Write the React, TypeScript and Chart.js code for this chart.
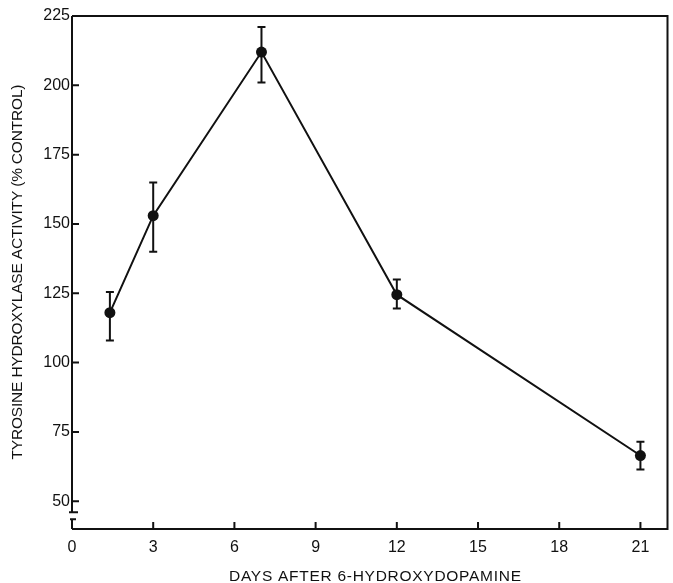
import React, { useEffect, useRef } from "react";
import { Chart, registerables } from "chart.js";
Chart.register(...registerables);

const days = [1.4, 3, 7, 12, 21];
const activity = [118, 153, 212, 124.5, 66.5];
const errLow = [108, 140, 201, 119.5, 61.5];
const errHigh = [125.5, 165, 221, 130, 71.5];
const xTicks = [0, 3, 6, 9, 12, 15, 18, 21];
const yTicks = [50, 75, 100, 125, 150, 175, 200, 225];
const yBreak = [43.5, 46];
const xTitle = "DAYS AFTER 6-HYDROXYDOPAMINE";
const yTitle = "TYROSINE HYDROXYLASE ACTIVITY (% CONTROL)";

const FONT = "'Liberation Sans', Arial, sans-serif";

function drawSpaced(ctx: CanvasRenderingContext2D, text: string, target: number) {
  (ctx as any).letterSpacing = "0px";
  const w = ctx.measureText(text).width;
  const ls = (target - w) / (text.length - 1);
  (ctx as any).letterSpacing = ls + "px";
  const w2 = ctx.measureText(text).width - ls;
  ctx.fillText(text, -w2 / 2, 0);
  (ctx as any).letterSpacing = "0px";
}

const decor = {
  id: "decor",
  afterDraw(chart: any) {
    const { ctx, chartArea } = chart;
    const xs = chart.scales.x;
    const ys = chart.scales.y;
    const { left, right, top, bottom } = chartArea;
    ctx.save();
    ctx.strokeStyle = "#111";
    ctx.fillStyle = "#111";
    ctx.lineWidth = 2;
    ctx.lineCap = "butt";
    ctx.beginPath();
    ctx.moveTo(left, top);
    ctx.lineTo(right, top);
    ctx.lineTo(right, bottom);
    ctx.lineTo(left, bottom);
    ctx.stroke();
    const bHi = ys.getPixelForValue(yBreak[1]);
    const bLo = ys.getPixelForValue(yBreak[0]);
    ctx.beginPath();
    ctx.moveTo(left, top);
    ctx.lineTo(left, bHi);
    ctx.moveTo(left - 3, bHi);
    ctx.lineTo(left + 6, bHi);
    ctx.moveTo(left - 2, bLo);
    ctx.lineTo(left + 4, bLo);
    ctx.moveTo(left, bLo);
    ctx.lineTo(left, bottom);
    ctx.stroke();
    ctx.beginPath();
    xTicks.forEach((v) => {
      const px = xs.getPixelForValue(v);
      ctx.moveTo(px, bottom);
      ctx.lineTo(px, bottom - 7);
    });
    yTicks.forEach((v) => {
      const py = ys.getPixelForValue(v);
      ctx.moveTo(left, py);
      ctx.lineTo(left + 7, py);
    });
    ctx.stroke();
    ctx.beginPath();
    days.forEach((d, i) => {
      const px = xs.getPixelForValue(d);
      const pl = ys.getPixelForValue(errLow[i]);
      const ph = ys.getPixelForValue(errHigh[i]);
      ctx.moveTo(px, pl);
      ctx.lineTo(px, ph);
      ctx.moveTo(px - 4, pl);
      ctx.lineTo(px + 4, pl);
      ctx.moveTo(px - 4, ph);
      ctx.lineTo(px + 4, ph);
    });
    ctx.stroke();
    ctx.font = `15.5px ${FONT}`;
    ctx.textBaseline = "middle";
    ctx.textAlign = "left";
    ctx.save();
    ctx.translate(375, 577);
    drawSpaced(ctx, xTitle, 292);
    ctx.restore();
    ctx.save();
    ctx.translate(18, 272);
    ctx.rotate(-Math.PI / 2);
    drawSpaced(ctx, yTitle, 375);
    ctx.restore();
    ctx.restore();
  },
};

export default function App() {
  const ref = useRef<HTMLCanvasElement>(null);
  useEffect(() => {
    document.body.style.margin = "0";
    const chart = new Chart(ref.current!, {
      type: "scatter",
      data: {
        datasets: [
          {
            data: days.map((d, i) => ({ x: d, y: activity[i] })),
            showLine: true,
            borderColor: "#111",
            borderWidth: 2,
            backgroundColor: "#111",
            pointRadius: 5.5,
            pointBackgroundColor: "#111",
            pointBorderWidth: 0,
            tension: 0,
          },
        ],
      },
      options: {
        animation: false,
        responsive: false,
        devicePixelRatio: 1,
        layout: { padding: { top: 16, right: 4, left: 0, bottom: 0 } },
        plugins: { legend: { display: false }, tooltip: { enabled: false } },
        scales: {
          x: {
            type: "linear",
            min: 0,
            max: 22,
            grid: { display: false, drawTicks: false },
            border: { display: false },
            afterBuildTicks: (s: any) => {
              s.ticks = xTicks.map((v) => ({ value: v }));
            },
            afterFit: (s: any) => {
              s.height = 54;
            },
            ticks: {
              color: "#111",
              font: { family: FONT, size: 16 },
              padding: 9,
              maxRotation: 0,
              autoSkip: false,
            },
          },
          y: {
            type: "linear",
            min: 40,
            max: 225,
            grid: { display: false, drawTicks: false },
            border: { display: false },
            afterBuildTicks: (s: any) => {
              s.ticks = yTicks.map((v) => ({ value: v }));
            },
            afterFit: (s: any) => {
              s.width = 72;
            },
            ticks: {
              color: "#111",
              font: { family: FONT, size: 16 },
              padding: 2,
              autoSkip: false,
            },
          },
        },
      },
      plugins: [decor],
    });
    return () => chart.destroy();
  }, []);
  return (
    <div style={{ position: "absolute", left: 0, top: 0, width: 673, height: 583, background: "#fff" }}>
      <canvas ref={ref} width={673} height={583} style={{ display: "block", width: 673, height: 583 }} />
    </div>
  );
}
